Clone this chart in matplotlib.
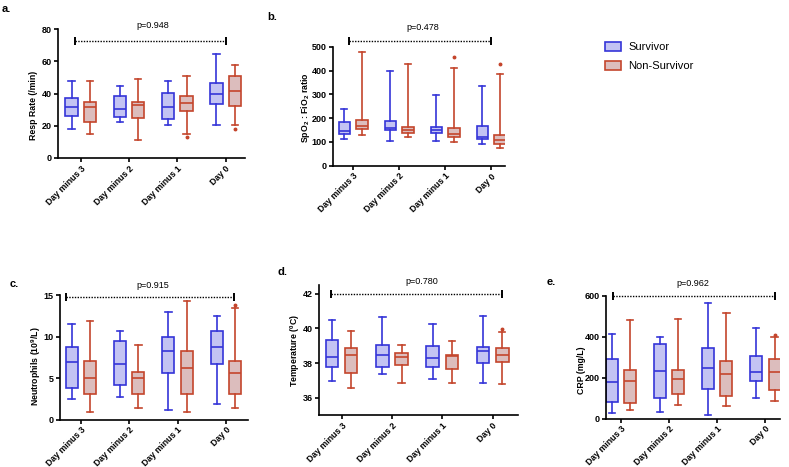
import matplotlib
matplotlib.use('Agg')
import matplotlib.pyplot as plt
from matplotlib.patches import Patch

plt.rcParams['font.family'] = ['Liberation Sans', 'DejaVu Sans']
plt.rcParams['mathtext.fontset'] = 'custom'
plt.rcParams['mathtext.rm'] = 'Liberation Sans'
plt.rcParams['mathtext.it'] = 'Liberation Sans:italic'
plt.rcParams['mathtext.bf'] = 'Liberation Sans:bold'
plt.rcParams['mathtext.default'] = 'bf'

days = ["Day minus 3", "Day minus 2", "Day minus 1", "Day 0"]
groups = ["Survivor", "Non-Survivor"]

# each entry: [whisker low, Q1, median, Q3, whisker high]
resp_surv = [[18, 26.3, 31.6, 37, 48], [22.4, 25.4, 30.4, 38.8, 45], [20.3, 24.2, 31.6, 40.4, 48], [20.7, 33.8, 39.6, 46.6, 64.8]]
resp_non = [[15.2, 22.4, 31.4, 35, 48], [11.3, 24.6, 33.2, 34.9, 49], [15.2, 29.1, 34.5, 38.8, 50.9], [20.3, 32.2, 41.6, 50.7, 57.6]]
resp_surv_out = [[], [], [], []]
resp_non_out = [[], [], [13.3], [18.3]]

spo_surv = [[111, 134, 148, 185, 237], [102, 152, 157, 190, 399], [102, 136, 150, 162, 297], [90, 111, 122, 168, 336]]
spo_non = [[130, 154, 167, 193, 476], [119, 136, 150, 161, 427], [98, 119, 133, 158, 410], [73, 90, 108, 130, 384]]
spo_surv_out = [[], [], [], []]
spo_non_out = [[], [], [458], [426]]

neut_surv = [[2.45, 3.85, 6.94, 8.7, 11.55], [2.69, 4.13, 6.74, 9.43, 10.7], [1.12, 5.6, 8.26, 9.9, 12.9], [1.85, 6.66, 8.78, 10.67, 12.47]]
neut_non = [[0.88, 3.09, 4.97, 7.1, 11.87], [1.4, 3.05, 4.97, 5.74, 8.94], [0.96, 3.05, 6.26, 8.26, 14.28], [1.4, 3.13, 5.6, 7.02, 13.44]]
neut_surv_out = [[], [], [], []]
neut_non_out = [[], [], [], [13.8]]

temp_surv = [[36.96, 37.77, 38.37, 39.35, 40.46], [37.38, 37.79, 38.46, 39.04, 40.67], [37.06, 37.77, 38.3, 38.98, 40.25], [36.87, 38.02, 38.69, 38.92, 40.73]]
temp_non = [[36.56, 37.44, 38.46, 38.87, 39.87], [36.87, 37.9, 38.37, 38.56, 39.06], [36.87, 37.67, 38.4, 38.46, 39.25], [36.81, 38.06, 38.44, 38.85, 39.77]]
temp_surv_out = [[], [], [], []]
temp_non_out = [[], [], [], [39.98]]

crp_surv = [[29, 83, 179, 289, 411], [31, 99, 234, 366, 400], [16, 143, 247, 345, 566], [101, 184, 229, 304, 442]]
crp_non = [[44, 75, 182, 237, 481], [65, 122, 192, 236, 486], [63, 109, 216, 283, 514], [85, 140, 229, 289, 400]]
crp_surv_out = [[], [], [], []]
crp_non_out = [[], [], [], [410]]

p_values = ["p=0.948", "p=0.478", "p=0.915", "p=0.780", "p=0.962"]
ylabels = ["Resp Rate (/min)", "SpO$_2$ : FiO$_2$ ratio", "Neutrophils (10$^9$/L)",
           "Temperature ($^0$C)", "CRP (mg/L)"]
panel_letters = ["a.", "b.", "c.", "d.", "e."]

S_EDGE, S_FACE = "#3535d8", "#c3c3f3"
N_EDGE, N_FACE = "#c4452c", "#dcbdbd"

W, H = 789, 467
fig = plt.figure(figsize=(W / 100, H / 100), dpi=100)

def px(x, y):
    return x / W, 1 - y / H

panels = [
    dict(surv=resp_surv, non=resp_non, so=resp_surv_out, no=resp_non_out,
         rect=[0.0735, 0.6617, 0.237, 0.2755], ylim=(0, 80), yticks=[0, 20, 40, 60, 80],
         xlim=(-0.47, 3.4), br=(-0.12, 3.0, 73), ptxt=(153, 26), lab=(2, 9), yl=(33, 105)),
    dict(surv=spo_surv, non=spo_non, so=spo_surv_out, no=spo_non_out,
         rect=[0.422, 0.645, 0.218, 0.255], ylim=(0, 500), yticks=[0, 100, 200, 300, 400, 500],
         xlim=(-0.44, 3.3), br=(-0.09, 3.0, 525), ptxt=(423, 28), lab=(267, 17), yl=(305, 108)),
    dict(surv=neut_surv, non=neut_non, so=neut_surv_out, no=neut_non_out,
         rect=[0.076, 0.1013, 0.238, 0.267], ylim=(0, 15), yticks=[0, 5, 10, 15],
         xlim=(-0.43, 3.45), br=(-0.3, 3.17, 14.8), ptxt=(153, 285), lab=(10, 284), yl=(36, 366)),
    dict(surv=temp_surv, non=temp_non, so=temp_surv_out, no=temp_non_out,
         rect=[0.4043, 0.1113, 0.252, 0.2784], ylim=(35, 42.5), yticks=[36, 38, 40, 42],
         xlim=(-0.45, 3.5), br=(-0.22, 3.18, 42), ptxt=(422, 282), lab=(277, 272), yl=(295, 351)),
    dict(surv=crp_surv, non=crp_non, so=crp_surv_out, no=crp_non_out,
         rect=[0.768, 0.1034, 0.2205, 0.2634], ylim=(0, 600), yticks=[0, 200, 400, 600],
         xlim=(-0.31, 3.3), br=(-0.16, 3.2, 600), ptxt=(693, 283), lab=(547, 282), yl=(581, 370)),
]

def make_stats(vals, outs):
    st = []
    for v, o in zip(vals, outs):
        st.append(dict(whislo=v[0], q1=v[1], med=v[2], q3=v[3], whishi=v[4], fliers=o))
    return st

off, bw = 0.19, 0.25
for i, p in enumerate(panels):
    ax = fig.add_axes(p["rect"])
    xs = range(len(days))
    for vals, outs, sign, ec, fc in [(p["surv"], p["so"], -1, S_EDGE, S_FACE),
                                     (p["non"], p["no"], 1, N_EDGE, N_FACE)]:
        ax.bxp(make_stats(vals, outs), positions=[x + sign * off for x in xs],
               widths=bw, capwidths=0.13, patch_artist=True, manage_ticks=False,
               boxprops=dict(facecolor=fc, edgecolor=ec, linewidth=1.2),
               whiskerprops=dict(color=ec, linewidth=1.2),
               capprops=dict(color=ec, linewidth=1.2),
               medianprops=dict(color=ec, linewidth=1.2),
               flierprops=dict(marker='o', markersize=1.8, markerfacecolor=ec,
                               markeredgecolor=ec))
    ax.set_xlim(*p["xlim"])
    ax.set_ylim(*p["ylim"])
    ax.set_yticks(p["yticks"])
    ax.set_xticks(list(xs))
    ax.set_xticklabels(days, rotation=45, ha='right', rotation_mode='anchor')
    for s in ["top", "right"]:
        ax.spines[s].set_visible(False)
    for s in ["left", "bottom"]:
        ax.spines[s].set_linewidth(1.2)
    ax.tick_params(direction='out', length=3, width=1.2, labelsize=6.5, pad=1.5)
    ax.tick_params(axis='x', labelsize=6.3, pad=1.2)
    for t in ax.get_xticklabels() + ax.get_yticklabels():
        t.set_fontweight('bold')
    x0, x1, yb = p["br"]
    ax.plot([x0, x1], [yb, yb], color='black', lw=1.0, ls=(0, (1, 1)), clip_on=False)
    ax.plot([x0, x1], [yb, yb], color='black', ls='none', marker='|', ms=6, mew=1.4, clip_on=False)
    fx, fy = px(*p["ptxt"])
    fig.text(fx, fy, p_values[i], ha='center', va='center', fontsize=6.5)
    lx, ly = px(*p["lab"])
    fig.text(lx, ly, panel_letters[i], ha='left', va='center', fontsize=8, fontweight='bold')
    yx, yy = px(*p["yl"])
    fig.text(yx, yy, ylabels[i], ha='center', va='center', rotation=90, fontsize=6.3,
             fontweight='bold')

handles = [Patch(facecolor=S_FACE, edgecolor=S_EDGE, linewidth=1.2, label=groups[0]),
           Patch(facecolor=N_FACE, edgecolor=N_EDGE, linewidth=1.2, label=groups[1])]
lx, ly = px(605, 42)
fig.legend(handles=handles, loc='upper left', bbox_to_anchor=(lx, ly), frameon=False,
           fontsize=8, handlelength=1.4, handleheight=0.9, handletextpad=0.7,
           labelspacing=0.75, borderpad=0, borderaxespad=0)

fig.savefig("out.png", dpi=100)
